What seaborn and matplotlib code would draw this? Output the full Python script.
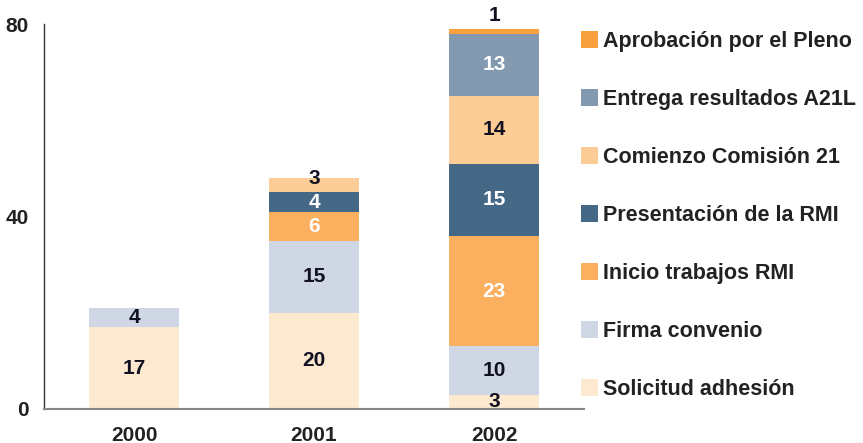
import matplotlib
matplotlib.use("Agg")
import matplotlib.pyplot as plt
from matplotlib.patches import Patch
import seaborn as sns
import numpy as np
import pandas as pd

years = ["2000", "2001", "2002"]
series = ["Solicitud adhesión", "Firma convenio", "Inicio trabajos RMI",
          "Presentación de la RMI", "Comienzo Comisión 21",
          "Entrega resultados A21L", "Aprobación por el Pleno"]
solicitud = [17, 20, 3]
firma = [4, 15, 10]
inicio = [0, 6, 23]
presentacion = [0, 4, 15]
comienzo = [0, 3, 14]
entrega = [0, 0, 13]
aprobacion = [0, 0, 1]
values = [solicitud, firma, inicio, presentacion, comienzo, entrega, aprobacion]
colors = ["#FDE9D0", "#CFD7E4", "#FBB060", "#466887", "#FCCC96", "#8399B0", "#F8A03E"]
label_colors = ["#111122", "#111122", "white", "white", "#111122", "white", "#111122"]
yticks = [0, 40, 80]

sns.set_theme(style="white")
plt.rcParams['font.family'] = ['Liberation Sans', 'DejaVu Sans']

fig = plt.figure(figsize=(8.63, 4.43), dpi=100)
W, H = 863, 443
ax = fig.add_axes([44 / W, (H - 409) / H, 540 / W, 385 / H])

totals = np.sum(np.array(values), axis=0)
bottom = np.zeros(len(years))
for name, vals, col, lc in zip(series, values, colors, label_colors):
    df = pd.DataFrame({"year": years, "value": vals})
    sns.barplot(data=df, x="year", y="value", order=years, color=col,
                width=0.5, bottom=bottom.copy(), errorbar=None, ax=ax,
                saturation=1, linewidth=0)
    for i, v in enumerate(vals):
        if v == 0:
            continue
        if name == "Aprobación por el Pleno":
            ax.text(i, bottom[i] + v + 0.7, str(v), ha="center", va="bottom",
                    fontsize=15, fontweight="bold", color=lc)
        else:
            yc = bottom[i] + v / 2
            if v <= 3 and bottom[i] + v == totals[i]:
                yc += 1.3
            ax.text(i, yc, str(v), ha="center", va="center",
                    fontsize=15, fontweight="bold", color=lc)
    bottom = bottom + np.array(vals)

ax.set_xlim(-0.5, 2.5)
ax.set_ylim(0, 80)
ax.set_yticks(yticks)
ax.set_yticklabels([str(t) for t in yticks])
ax.set_xticks([0, 1, 2])
ax.set_xticklabels(years)
ax.set_xticks([-0.5, 0.5, 1.5, 2.5], minor=True)
ax.tick_params(axis="x", which="major", length=0, pad=12, labelsize=15, labelcolor="#222222")
ax.tick_params(axis="x", which="minor", length=5, width=1, color="#555555", direction="out")
ax.tick_params(axis="y", which="major", length=5, width=1, color="#333333", direction="out",
               pad=6, labelsize=15, labelcolor="#222222")
for lab in ax.get_xticklabels() + ax.get_yticklabels():
    lab.set_fontweight("bold")
ax.set_xlabel("")
ax.set_ylabel("")
for s in ["top", "right"]:
    ax.spines[s].set_visible(False)
ax.spines["left"].set_color("#333333")
ax.spines["bottom"].set_color("#888888")
ax.spines["left"].set_linewidth(1)
ax.spines["bottom"].set_linewidth(1.5)

handles = [Patch(facecolor=c, edgecolor="none") for c in colors][::-1]
labels = series[::-1]
leg = fig.legend(handles, labels, loc="upper left",
                 bbox_to_anchor=(581 / W, 1 - 31 / H), frameon=False,
                 borderpad=0, borderaxespad=0, handlelength=0.8, handleheight=0.8,
                 handletextpad=0.2, labelspacing=1.72,
                 prop={"size": 15.5, "weight": "bold"})
for t in leg.get_texts():
    t.set_color("#222222")

fig.savefig("out.png", dpi=100)
